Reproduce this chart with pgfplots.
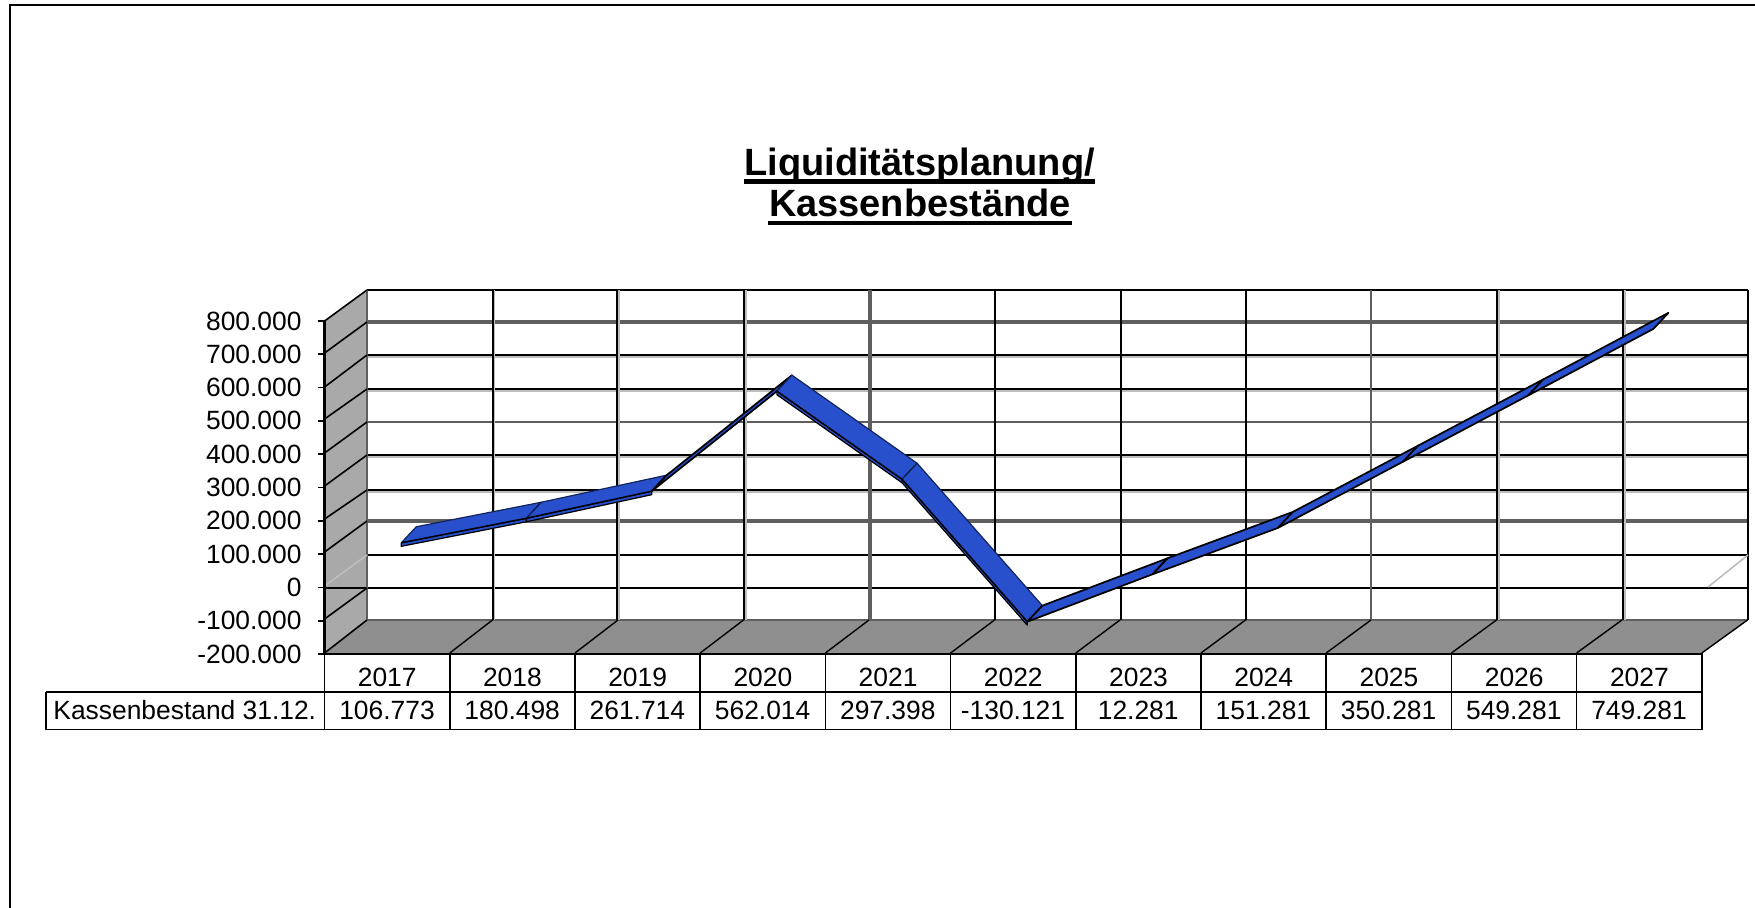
\documentclass[border=0pt]{standalone}
\usepackage{pgfplots}
\pgfplotsset{compat=1.18}
\usepackage{pgfplotstable}
\usepackage{fontspec}
\setmainfont{Liberation Sans}
\definecolor{rb}{HTML}{2850CC}
\definecolor{wallc}{HTML}{A9A9A9}
\definecolor{floorc}{HTML}{8F8F8F}
\definecolor{gd}{HTML}{5F5F5F}
\definecolor{gl}{HTML}{BDBDBD}
\pgfplotstableread{
i year v
0 2017 106773
1 2018 180498
2 2019 261714
3 2020 562014
4 2021 297398
5 2022 -130121
6 2023 12281
7 2024 151281
8 2025 350281
9 2026 549281
10 2027 749281
}\kasse
% ribbon: the two long faces of one segment, seen at its depth in the 3-D box
\newcommand\ribbon[4]{%
 \addplot[fill=rb,draw=black,line width=.6pt,line join=round] table[row sep=\\,x expr=\thisrow{i}+.112,y expr=\thisrow{v}+\thisrow{o}]{
 i v o\\ #1 #2 27100\\ #3 #4 27100\\ #3 #4 16600\\ #1 #2 16600\\ #1 #2 27100\\};
 \addplot[fill=rb,draw=black!55!rb,line width=.6pt,line join=round] table[row sep=\\,x expr=\thisrow{i}+\thisrow{d},y expr=\thisrow{v}+\thisrow{o}]{
 i v d o\\ #1 #2 .112 27100\\ #3 #4 .112 27100\\ #3 #4 .232 75300\\ #1 #2 .232 75300\\ #1 #2 .112 27100\\};
 \addplot[black,line width=.7pt] table[row sep=\\,x expr=\thisrow{i}+\thisrow{d},y expr=\thisrow{v}+\thisrow{o}]{
 i v d o\\ #1 #2 .112 27100\\ #3 #4 .112 27100\\};
 \addplot[black,line width=.7pt] table[row sep=\\,x expr=\thisrow{i}+\thisrow{d},y expr=\thisrow{v}+\thisrow{o}]{
 i v d o\\ #3 #4 .112 27100\\ #3 #4 .232 75300\\};
}
% steeply rising segment: only a narrow face shows, with dark edges
\newcommand\ribbonrise[4]{%
 \addplot[fill=rb,draw=black,line width=.85pt,line join=round] table[row sep=\\,x expr=\thisrow{i}+\thisrow{d},y expr=\thisrow{v}+\thisrow{o}]{
 i v d o\\ #1 #2 .112 27100\\ #3 #4 .112 27100\\ #3 #4 .232 75300\\ #1 #2 .232 75300\\ #1 #2 .112 27100\\};
}
\begin{document}
\begin{tikzpicture}
\begin{scope}[x=.5pt,y=-.5pt]
\path[use as bounding box] (0,0) rectangle (1755,908);
% outer frame
\draw[black,line width=1pt] (10,908) -- (10,5.5) -- (1755,5.5);
% walls and floor
\fill[wallc] (324.6,321) -- (367,290) -- (367,620) -- (324.6,653) -- cycle;
\fill[floorc] (324.6,653) -- (367,620) -- (1748,620) -- (1702,653) -- cycle;
% horizontal grid on the back wall (grey shade under black lines)
\foreach \y in {355,389,455,490} \draw[gl,line width=1.2pt] (367,\y+1.5) -- (1748,\y+1.5);
\foreach \y/\c/\w in {322/gd/1.6,422/gd/1.4,521/gd/1.6,355/black/1,389/black/1,455/black/1,490/black/1,555/black/1,290/black/1}
  \draw[\c,line width=\w pt] (367,\y) -- (1748,\y);
\draw[black,line width=.8pt] (324.6,588) -- (1748,588);
\draw[gd,line width=1.4pt] (367,620) -- (1748,620);
% vertical grid on the back wall
\foreach \x in {492.5,617,744,1497,1623} \draw[gl,line width=1.2pt] (\x+1.5,290) -- (\x+1.5,620);
\foreach \x/\c/\w in {367/gd/1.3,492.5/black/1,617/black/1,744/black/1,870/gd/1.6,995/black/1,1121/black/1,1246/black/1,1371/gd/1.3,1497/black/1,1623/black/1,1748/black/1.4}
  \draw[\c,line width=\w pt] (\x,290) -- (\x,620);
% wall diagonals
\foreach \a/\b in {321/290,353/322,387/355,419/389,453/422,486/455,519/490,552/521,619/588,653/620}
  \draw[black,line width=.8pt] (324.6,\a) -- (367,\b);
\draw[gl,line width=.8pt] (324.6,586) -- (367,555);
\draw[gl,line width=.8pt] (1708,587) -- (1748,555);
% floor diagonals
\foreach \k in {1,...,11}
  \draw[black,line width=.7pt] ({324.6+125.2*\k},653) -- ({367+125.5*\k},620);
% table
\draw[black,line width=.8pt] (46,692) -- (1702,692) (46,729.5) -- (1702,729.5) (46,692) -- (46,729.5);
\foreach \k in {0,...,11} \draw[black,line width=.8pt] ({324.6+125.2*\k},653) -- ({324.6+125.2*\k},729.5);
\node[anchor=base west,inner sep=0pt,font=\fontsize{13.2}{16}\selectfont] at (53,719.5) {Kassenbestand 31.12.};
\foreach \k/\t in {0/106.773,1/180.498,2/261.714,3/562.014,4/297.398,5/-130.121,6/12.281,7/151.281,8/350.281,9/549.281,10/749.281}
  \node[anchor=base,inner sep=0pt,font=\fontsize{13.2}{16}\selectfont] at ({387+125.2*\k},719.5) {\t};
% title
\node[anchor=base,inner sep=0pt,font=\fontsize{19}{23}\bfseries\selectfont] at (919.5,176) {Liquiditätsplanung/};
\node[anchor=base,inner sep=0pt,font=\fontsize{19}{23}\bfseries\selectfont] at (920,217) {Kassenbestände};
\draw[black,line width=2.2pt] (744,181.7) -- (1095,181.7) (768,223) -- (1072,223);
\end{scope}
\begin{axis}[
  at={(162.3pt,-327pt)},anchor=south west,
  scale only axis,width=688.7pt,height=166.5pt,
  xmin=-.5,xmax=10.5,ymin=-200000,ymax=800000,clip=false,
  axis x line*=bottom,axis y line*=left,
  axis line style={-,line width=1.3pt,black},
  xtick={0,...,10},xticklabels={2017,2018,2019,2020,2021,2022,2023,2024,2025,2026,2027},
  x tick style={draw=none},
  x tick label style={anchor=base,yshift=-12.7pt,font=\fontsize{13.2}{16}\selectfont},
  ytick={-200000,-100000,...,800000},
  y tick style={black,line width=.8pt},
  tick align=outside,major tick length=3.5pt,
  y tick label style={font=\fontsize{13.2}{16}\selectfont,xshift=-4.5pt},
  scaled y ticks=false,
  /pgf/number format/assume math mode=true,
  /pgf/number format/fixed,
  /pgf/number format/1000 sep={.},
  /pgf/number format/int detect,
]
\addplot[draw=none,forget plot] table[x=i,y=v]{\kasse};
\ribbon{0}{106773}{1}{180498}
\ribbon{1}{180498}{2}{261714}
\ribbonrise{2}{261714}{3}{562014}
\ribbon{3}{562014}{4}{297398}
\ribbon{4}{297398}{5}{-130121}
\ribbonrise{5}{-130121}{6}{12281}
\ribbonrise{6}{12281}{7}{151281}
\ribbonrise{7}{151281}{8}{350281}
\ribbonrise{8}{350281}{9}{549281}
\ribbonrise{9}{549281}{10}{749281}
\end{axis}
\end{tikzpicture}
\end{document}
